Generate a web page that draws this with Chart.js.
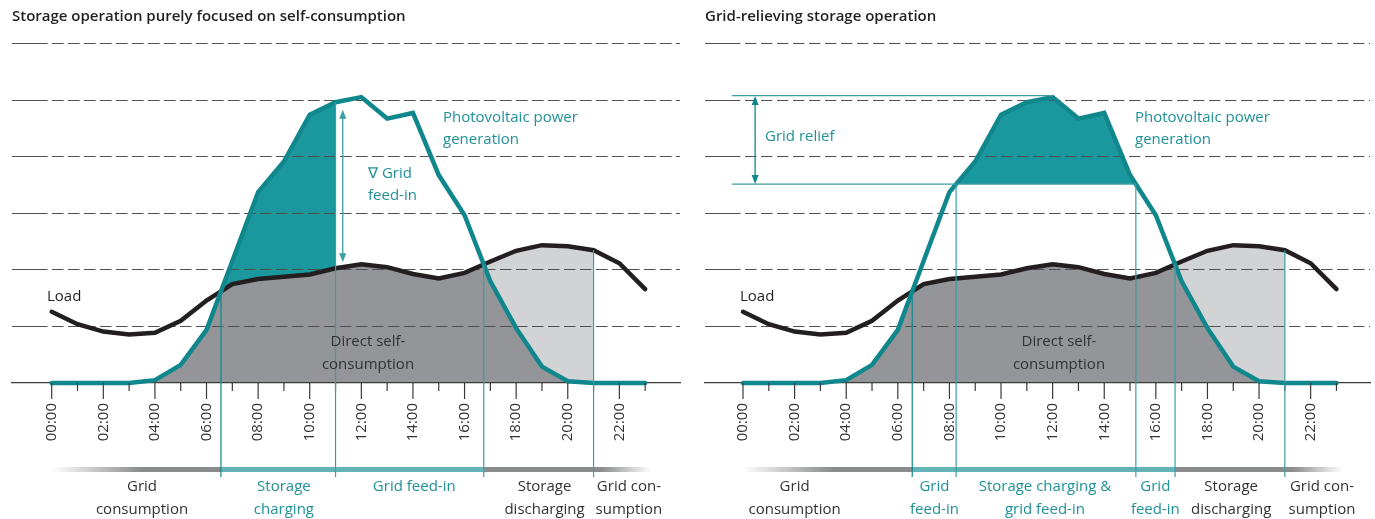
<!DOCTYPE html>
<html>
<head>
<meta charset="utf-8">
<script src="https://cdn.jsdelivr.net/npm/chart.js@4.4.0/dist/chart.umd.min.js"></script>
<style>
  body { margin: 0; background: #fff; }
  canvas { position: absolute; top: 0; }
  #left { left: 0; }
  #right { left: 691px; }
</style>
</head>
<body>
<canvas id="left" width="690" height="519"></canvas>
<canvas id="right" width="684" height="519"></canvas>
<script>
// values, one grid step = 1 unit
var hours = [0, 1, 2, 3, 4, 5, 6, 7, 8, 9, 10, 11, 12, 13, 14, 15, 16, 17, 18, 19, 20, 21, 22, 23];
var timeLabels = ['00:00', '01:00', '02:00', '03:00', '04:00', '05:00', '06:00', '07:00', '08:00', '09:00', '10:00', '11:00',
                  '12:00', '13:00', '14:00', '15:00', '16:00', '17:00', '18:00', '19:00', '20:00', '21:00', '22:00', '23:00'];
var pvPower = [0, 0, 0, 0, 0.05, 0.32, 0.94, 2.16, 3.38, 3.92, 4.75, 4.97, 5.06, 4.68, 4.78, 3.68, 2.97, 1.80, 0.97, 0.29, 0.03, 0, 0, 0];
var loadPower = [1.26, 1.04, 0.91, 0.86, 0.89, 1.10, 1.46, 1.75, 1.84, 1.88, 1.92, 2.03, 2.10, 2.05, 1.93, 1.85, 1.95, 2.15, 2.34, 2.44, 2.42, 2.35, 2.12, 1.66];
var gridLevels = [0, 1, 2, 3, 4, 5, 6];
var reliefLimit = 3.52;
var chargeEnd = 11;
var dischargeEnd = 21;
var leftPhases = [['Grid', 'consumption'], ['Storage', 'charging'], ['Grid feed-in'], ['Storage', 'discharging'], ['Grid con-', 'sumption']];
var rightPhases = [['Grid', 'consumption'], ['Grid', 'feed-in'], ['Storage charging &', 'grid feed-in'], ['Grid', 'feed-in'], ['Storage', 'discharging'], ['Grid con-', 'sumption']];

var TEAL = '#10878d', TEAL_FILL = '#1a989e', TEAL_TEXT = '#1f9198', TEAL_THIN = '#3a9fa4', TEAL_BAND = '#63b3b7';
var DARK = '#231f20', TEXT = '#333333', GREY = '#939598', LIGHT = '#d1d3d4', GRID = '#505052', BAND = '#8a8b8d';
var FONT = "'Open Sans', sans-serif";

function interp(arr, h) {
  var i = Math.min(Math.floor(h), arr.length - 2);
  return arr[i] + (arr[i + 1] - arr[i]) * (h - i);
}

function crossings(a, b) {
  var out = [];
  for (var i = 0; i < a.length - 1; i++) {
    var b0 = Array.isArray(b) ? b[i] : b, b1 = Array.isArray(b) ? b[i + 1] : b;
    var d0 = a[i] - b0, d1 = a[i + 1] - b1;
    if ((d0 < 0) !== (d1 < 0)) out.push(i + d0 / (d0 - d1));
  }
  return out;
}

function curvePath(chart, values) {
  var ctx = chart.ctx, xs = chart.scales.x, ys = chart.scales.y;
  ctx.beginPath();
  ctx.moveTo(xs.getPixelForValue(hours[0]), ys.getPixelForValue(0));
  for (var i = 0; i < hours.length; i++) {
    ctx.lineTo(xs.getPixelForValue(hours[i]), ys.getPixelForValue(values[i]));
  }
  ctx.lineTo(xs.getPixelForValue(hours[hours.length - 1]), ys.getPixelForValue(0));
  ctx.closePath();
}

function line(ctx, x1, y1, x2, y2, color, w) {
  ctx.save();
  ctx.strokeStyle = color;
  ctx.lineWidth = w;
  ctx.beginPath();
  ctx.moveTo(x1, y1);
  ctx.lineTo(x2, y2);
  ctx.stroke();
  ctx.restore();
}

function arrow(ctx, x, y1, y2, color) {
  line(ctx, x, y1 + 4, x, y2 - 4, color, 1.3);
  ctx.save();
  ctx.fillStyle = color;
  ctx.beginPath();
  ctx.moveTo(x, y1); ctx.lineTo(x - 3.5, y1 + 9); ctx.lineTo(x + 3.5, y1 + 9); ctx.closePath();
  ctx.moveTo(x, y2); ctx.lineTo(x - 3.5, y2 - 9); ctx.lineTo(x + 3.5, y2 - 9); ctx.closePath();
  ctx.fill();
  ctx.restore();
}

function text(ctx, str, x, y, color, align) {
  ctx.save();
  ctx.font = '15px ' + FONT;
  ctx.fillStyle = color;
  ctx.textAlign = align || 'left';
  ctx.textBaseline = 'middle';
  ctx.fillText(str, x, y);
  ctx.restore();
}

var panelPlugin = {
  id: 'panel',
  beforeDraw: function(chart, args, opts) {
    var ctx = chart.ctx, area = chart.chartArea, xs = chart.scales.x, ys = chart.scales.y;
    var cross = crossings(pvPower, loadPower);
    var a, b;
    // storage charging area
    ctx.save();
    ctx.beginPath();
    if (opts.mode === 'self') {
      a = xs.getPixelForValue(cross[0]);
      b = xs.getPixelForValue(chargeEnd);
      ctx.rect(a, area.top - 20, b - a, area.bottom - area.top + 20);
    } else {
      ctx.rect(area.left, 0, area.right - area.left, ys.getPixelForValue(reliefLimit));
    }
    ctx.clip();
    curvePath(chart, pvPower);
    ctx.fillStyle = TEAL_FILL;
    ctx.fill();
    ctx.restore();
    // storage discharging area
    ctx.save();
    a = xs.getPixelForValue(cross[1]);
    b = xs.getPixelForValue(dischargeEnd);
    ctx.beginPath();
    ctx.rect(a, area.top, b - a, area.bottom - area.top);
    ctx.clip();
    curvePath(chart, loadPower);
    ctx.fillStyle = LIGHT;
    ctx.fill();
    ctx.restore();
    // direct self-consumption
    ctx.save();
    curvePath(chart, loadPower);
    ctx.clip();
    curvePath(chart, pvPower);
    ctx.fillStyle = GREY;
    ctx.fill();
    ctx.restore();
  },
  afterDraw: function(chart, args, opts) {
    var ctx = chart.ctx, area = chart.chartArea, xs = chart.scales.x, ys = chart.scales.y;
    var px = function(h) { return xs.getPixelForValue(h); };
    var py = function(v) { return ys.getPixelForValue(v); };
    var cross = crossings(pvPower, loadPower);
    var limitCross = crossings(pvPower, reliefLimit);
    var i;

    // solid start of each grid line (same pixel alignment as the grid)
    for (i = 1; i < gridLevels.length; i++) {
      var gy = Math.round(py(gridLevels[i]) - 0.55) + 0.55;
      line(ctx, area.left, gy, area.left + 34, gy, GRID, 1.1);
    }
    // hour ticks
    for (i = 0; i < hours.length; i++) {
      line(ctx, px(hours[i]), area.bottom, px(hours[i]), area.bottom + (hours[i] % 2 === 0 ? 16 : 8), '#3a3a3a', 1.2);
    }

    // phase band
    var bandY = 467, bandH = 5;
    var x0 = px(hours[0]), xEnd = px(hours[hours.length - 1]) + 6;
    var c1 = px(cross[0]), c2 = px(cross[1]);
    var g = ctx.createLinearGradient(x0, 0, x0 + 90, 0);
    g.addColorStop(0, 'rgba(138,139,141,0)');
    g.addColorStop(1, BAND);
    ctx.fillStyle = g;
    ctx.fillRect(x0, bandY, c1 - x0, bandH);
    ctx.fillStyle = TEAL_BAND;
    ctx.fillRect(c1, bandY, c2 - c1, bandH);
    g = ctx.createLinearGradient(xEnd - 50, 0, xEnd, 0);
    g.addColorStop(0, BAND);
    g.addColorStop(1, 'rgba(138,139,141,0)');
    ctx.fillStyle = g;
    ctx.fillRect(c2, bandY, xEnd - c2, bandH);

    // phase boundaries
    var bottomY = 477;
    line(ctx, c1, py(interp(loadPower, cross[0])), c1, bottomY, TEAL, 1.2);
    line(ctx, c2, py(interp(loadPower, cross[1])), c2, bottomY, TEAL_THIN, 1.2);
    line(ctx, px(dischargeEnd), py(interp(loadPower, dischargeEnd)), px(dischargeEnd), bottomY, TEAL_THIN, 1.2);

    var peak = Math.max.apply(null, pvPower);
    var peakHour = hours[pvPower.indexOf(peak)];
    if (opts.mode === 'self') {
      line(ctx, px(chargeEnd), py(interp(pvPower, chargeEnd)), px(chargeEnd), bottomY, TEAL_THIN, 1.2);
      var ah = 11.28;
      arrow(ctx, px(ah), py(interp(pvPower, ah)) + 9, py(interp(loadPower, ah)) - 5, TEAL_THIN);
      text(ctx, '\u2207 Grid', 368, 174, TEAL_TEXT);
      text(ctx, 'feed-in', 368, 196, TEAL_TEXT);
    } else {
      var ly = py(reliefLimit);
      line(ctx, px(limitCross[0]), ly, px(limitCross[0]), bottomY, TEAL_THIN, 1.2);
      line(ctx, px(limitCross[1]), ly, px(limitCross[1]), bottomY, TEAL_THIN, 1.2);
      line(ctx, px(-0.43), py(peak) - 1.5, px(peakHour), py(peak) - 1.5, TEAL_THIN, 1.2);
      line(ctx, px(-0.43), ly, px(limitCross[1]), ly, TEAL_THIN, 1.2);
      arrow(ctx, px(0.47), py(peak) - 1, ly, TEAL);
      text(ctx, 'Grid relief', 74, 137, TEAL_TEXT);
    }

    text(ctx, 'Photovoltaic power', opts.pvTextX, 118, TEAL_TEXT);
    text(ctx, 'generation', opts.pvTextX, 140, TEAL_TEXT);
    text(ctx, 'Load', opts.loadTextX, 297, DARK);
    text(ctx, 'Direct self-', 368, 342, TEXT, 'center');
    text(ctx, 'consumption', 368, 365, TEXT, 'center');

    // phase labels under the band
    for (i = 0; i < opts.phases.length; i++) {
      var lx = px(opts.phaseHours[i]);
      var col = opts.phaseTeal[i] ? TEAL_TEXT : TEXT;
      for (var j = 0; j < opts.phases[i].length; j++) {
        text(ctx, opts.phases[i][j], lx, 487 + j * 22.5, col, 'center');
      }
    }
  }
};

function makeChart(id, cfg) {
  return new Chart(document.getElementById(id), {
    type: 'line',
    data: {
      datasets: [{
        label: 'Photovoltaic power generation',
        data: hours.map(function(h, i) { return { x: h, y: pvPower[i] }; }),
        borderColor: TEAL,
        borderWidth: 4.5,
        borderCapStyle: 'round',
        pointRadius: 0,
        fill: false,
        tension: 0,
        clip: false
      }, {
        label: 'Load',
        data: hours.map(function(h, i) { return { x: h, y: loadPower[i] }; }),
        borderColor: DARK,
        borderWidth: 4.5,
        borderCapStyle: 'round',
        pointRadius: 0,
        fill: false,
        tension: 0,
        clip: false
      }]
    },
    options: {
      responsive: false,
      animation: false,
      layout: { padding: { left: cfg.padLeft, right: cfg.padRight, top: 0, bottom: 0 } },
      plugins: {
        legend: { display: false },
        tooltip: { enabled: false },
        title: {
          display: true,
          text: cfg.title,
          align: 'start',
          color: DARK,
          font: { family: FONT, size: 15, weight: '600' },
          padding: { top: 8, bottom: 18 }
        },
        panel: cfg
      },
      scales: {
        x: {
          type: 'linear',
          min: cfg.xMin,
          max: cfg.xMax,
          afterBuildTicks: function(s) { s.ticks = hours.map(function(h) { return { value: h }; }); },
          afterFit: function(s) { s.height = 136; },
          ticks: {
            autoSkip: false,
            minRotation: 90,
            maxRotation: 90,
            padding: 20,
            color: '#333333',
            font: { family: FONT, size: 15 },
            callback: function(v) { return v % 2 === 0 ? timeLabels[v] : ''; }
          },
          grid: { display: true, drawOnChartArea: false, drawTicks: false },
          border: { display: true, color: '#3a3a3a', width: 1.2 }
        },
        y: {
          min: 0,
          max: 6,
          afterBuildTicks: function(s) { s.ticks = gridLevels.map(function(v) { return { value: v }; }); },
          afterFit: function(s) { s.width = 0; },
          ticks: { display: false },
          grid: {
            color: function(c) { return c.tick && c.tick.value === 0 ? 'rgba(0,0,0,0)' : GRID; },
            lineWidth: 1.1,
            drawTicks: false
          },
          border: { display: false, dash: [11.5, 4.5], dashOffset: 8 }
        }
      }
    },
    plugins: [panelPlugin]
  });
}

makeChart('left', {
  title: 'Storage operation purely focused on self-consumption',
  mode: 'self',
  padLeft: 12, padRight: 10,
  xMin: -1.539, xMax: 24.35,
  pvTextX: 443, loadTextX: 47,
  phases: leftPhases,
  phaseHours: [3.5, 9.0, 14.05, 19.1, 22.37],
  phaseTeal: [false, true, true, false, false]
});

makeChart('right', {
  title: 'Grid-relieving storage operation',
  mode: 'relief',
  padLeft: 14, padRight: 5,
  xMin: -1.473, xMax: 24.3,
  pvTextX: 444, loadTextX: 49,
  phases: rightPhases,
  phaseHours: [2.0, 7.42, 11.7, 15.98, 18.92, 22.44],
  phaseTeal: [false, true, true, true, false, false]
});
</script>
</body>
</html>
